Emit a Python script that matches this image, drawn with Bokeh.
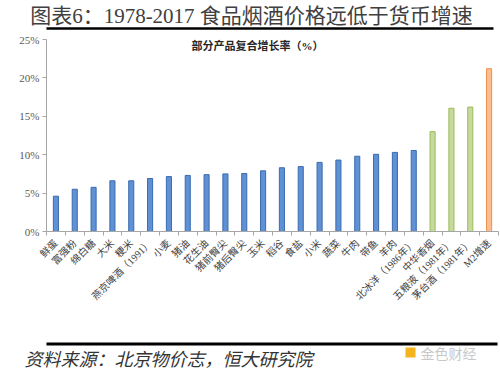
import math
from bokeh.plotting import figure
from bokeh.layouts import column
from bokeh.models import (ColumnDataSource, Range1d, FixedTicker, PrintfTickFormatter)
from bokeh.core.properties import value
from bokeh.embed import file_html
from bokeh.resources import INLINE

# ---------------- data ----------------
categories = ["鲜蛋", "富强粉", "绵白糖", "大米", "粳米", "燕京啤酒（1991）", "小麦", "猪油",
              "花生油", "猪前臀尖", "猪后臀尖", "玉米", "稻谷", "食盐", "小米", "蔬菜", "牛肉",
              "带鱼", "羊肉", "北冰洋（1986年）", "中华香烟", "五粮液（1981年）", "茅台酒（1981年）", "M2增速"]
growth = [4.6, 5.5, 5.75, 6.6, 6.6, 6.9, 7.15, 7.3, 7.4, 7.5, 7.55, 7.9, 8.3, 8.45,
          9.0, 9.3, 9.8, 10.05, 10.3, 10.55, 13.0, 16.05, 16.2, 21.2]
groups = ["食品"] * 20 + ["烟酒"] * 3 + ["货币"]
y_ticks = [0, 5, 10, 15, 20, 25]

title_text = "图表6：1978-2017 食品烟酒价格远低于货币增速"
chart_title = "部分产品复合增长率（%）"
source_text = "资料来源：北京物价志，恒大研究院"
watermark_text = "金色财经"

fill_map = {"食品": "#5F91D4", "烟酒": "#C6DA9E", "货币": "#FBBE92"}
line_map = {"食品": "#3A6BAE", "烟酒": "#9BBB59", "货币": "#F0904A"}

SERIF_CJK = "'Liberation Serif', 'Noto Sans CJK SC'"

# ---------------- layout geometry (page pixels) ----------------
W = 500
HDR_H, MAIN_H = 32, 305
FTR_H = 375 - HDR_H - MAIN_H
F_LEFT, F_RIGHT, F_TOP, F_BOTTOM = 46, 498, 39, 231


def strip(height):
    f = figure(width=W, height=height, x_range=Range1d(F_LEFT, F_RIGHT), y_range=Range1d(height, 0),
               output_backend="svg", toolbar_location=None, min_border=0,
               x_axis_location=None, y_axis_location=None)
    f.grid.visible = False
    f.outline_line_color = None
    return f


# ---------------- header ----------------
hdr = strip(HDR_H)
hdr.text(x=[251], y=[15], text=[title_text], text_font=value(SERIF_CJK),
         text_font_size="21px", text_color="#404040", text_align="center", text_baseline="middle",
         level="overlay")
hdr.segment(x0=[0], y0=[28], x1=[493], y1=[28], line_color="#000000", line_width=2.5)

# ---------------- main chart ----------------
xs = list(range(1, len(categories) + 1))
src = ColumnDataSource(dict(
    x=xs, value=growth, name=categories,
    fill=[fill_map[g] for g in groups], line=[line_map[g] for g in groups]))

p = figure(width=W, height=MAIN_H, x_range=Range1d(0.5, len(categories) + 0.5),
           y_range=Range1d(0, 25), output_backend="svg", toolbar_location=None,
           min_border_left=F_LEFT, min_border_right=W - F_RIGHT,
           min_border_top=F_TOP - HDR_H, min_border_bottom=HDR_H + MAIN_H - F_BOTTOM)
p.outline_line_color = None
p.grid.visible = False
p.extra_x_ranges = {"px": Range1d(F_LEFT, F_RIGHT)}
p.extra_y_ranges = {"py": Range1d(F_BOTTOM, F_TOP)}

p.vbar(x="x", top="value", width=0.27, source=src, fill_color="fill", line_color="line", line_width=1)

# y axis
p.yaxis.ticker = FixedTicker(ticks=y_ticks)
p.yaxis.formatter = PrintfTickFormatter(format="%d%%")
p.yaxis.major_label_text_font = SERIF_CJK
p.yaxis.major_label_text_font_size = "11px"
p.yaxis.major_label_text_color = "#595959"
p.yaxis.axis_line_color = "#A6A6A6"
p.yaxis.major_tick_line_color = "#A6A6A6"
p.yaxis.major_tick_out = 4
p.yaxis.major_tick_in = 0
p.yaxis.minor_tick_line_color = None
p.yaxis.major_label_standoff = 3

# x axis
p.xaxis.ticker = FixedTicker(ticks=xs, minor_ticks=[i + 0.5 for i in range(len(categories) + 1)])
p.xaxis.major_label_overrides = {i: c for i, c in zip(xs, categories)}
p.xaxis.major_label_orientation = math.pi / 4
p.xaxis.major_label_text_font = SERIF_CJK
p.xaxis.major_label_text_font_size = "10px"
p.xaxis.major_label_text_color = "#404040"
p.xaxis.axis_line_color = "#A6A6A6"
p.xaxis.major_tick_line_color = None
p.xaxis.minor_tick_line_color = "#A6A6A6"
p.xaxis.minor_tick_out = 4
p.xaxis.minor_tick_in = 0
p.xaxis.major_label_standoff = 4

p.text(x=[257], y=[45], text=[chart_title], text_font=value(SERIF_CJK), text_font_size="11px",
       text_font_style="bold", text_color="#262626", text_align="center", text_baseline="middle",
       x_range_name="px", y_range_name="py", level="overlay")

# ---------------- footer ----------------
ftr = strip(FTR_H)
ftr.segment(x0=[0], y0=[6.5], x1=[497], y1=[6.5], line_color="#000000", line_width=3)
ftr.text(x=[24], y=[20], text=[source_text], text_font=value("Noto Sans CJK SC"),
         text_font_size="18px", text_font_style="italic", text_color="#333333",
         text_align="left", text_baseline="middle", level="overlay")
ftr.quad(left=[405], right=[415], top=[10], bottom=[20], fill_color="#F5B31E", line_color=None)
ftr.text(x=[420], y=[15], text=[watermark_text], text_font=value("Noto Sans CJK SC"),
         text_font_size="14px", text_color="#C8C8C8", text_align="left", text_baseline="middle")

layout = column(hdr, p, ftr, spacing=0)

with open("out.html", "w") as f:
    f.write(file_html(layout, INLINE))
